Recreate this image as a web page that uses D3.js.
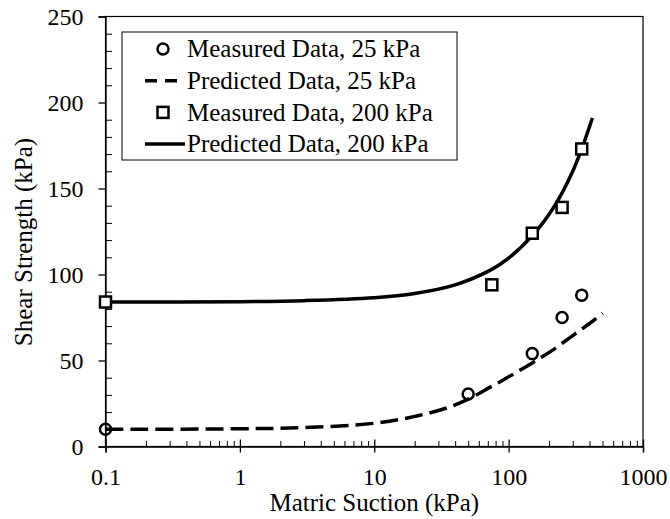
<!DOCTYPE html>
<html>
<head>
<meta charset="utf-8">
<script src="https://cdn.jsdelivr.net/npm/d3@7"></script>
<style>
  body { margin: 0; background: #fff; }
  svg text { font-family: "Liberation Serif", "Times New Roman", Times, serif; font-size: 25px; fill: #000; }
</style>
</head>
<body>
<div id="chart"></div>
<script>
// measured points
const measured25X = [0.1, 50, 150, 250, 350];
const measured25Y = [10, 30.5, 54, 75, 88];
const measured200X = [0.1, 75, 150, 250, 350];
const measured200Y = [84, 94, 124, 139, 173];

// predicted curves
const predicted25X = [0.1, 1, 3, 10, 20, 35, 50, 75, 100, 150, 214, 300, 400, 500];
const predicted25Y = [10, 10.3, 11, 13.5, 17.5, 22.5, 27.5, 35, 40.5, 48.6, 56.2, 64.5, 71.5, 77.5];
const predicted200X = [0.1, 1, 3, 10, 20, 40, 75, 100, 150, 200, 250, 300, 350, 420];
const predicted200Y = [84, 84.2, 84.8, 86.5, 89, 94, 103, 109.5, 122.5, 135, 147.5, 160, 173, 191];

const xTicks = [0.1, 1, 10, 100, 1000];
const xTickLabels = ["0.1", "1", "10", "100", "1000"];
const yTicks = [0, 50, 100, 150, 200, 250];

const legendLabels = ["Measured Data, 25 kPa", "Predicted Data, 25 kPa", "Measured Data, 200 kPa", "Predicted Data, 200 kPa"];

const width = 670, height = 519,
    margin = ({top: 16.5, right: 27, bottom: 72.5, left: 105.5});

const svg = d3.select("#chart").append("svg")
    .attr("width", width).attr("height", height)
    .attr("viewBox", [0, 0, width, height]);

const x = d3.scaleLog()
    .domain([0.1, 1000])
    .range([margin.left, width - margin.right]);

const y = d3.scaleLinear()
    .domain([0, 250])
    .range([height - margin.bottom, margin.top]);

// minor ticks
let xMinor = [];
for (let p = -1; p < 3; p++) for (let k = 2; k <= 9; k++) xMinor.push(k * Math.pow(10, p));
const yMinor = d3.range(0, 251, 10).filter(v => v % 50 !== 0);

svg.append("g")
    .attr("transform", `translate(0,${y(0)})`)
    .call(d3.axisBottom(x).tickValues(xMinor).tickSize(-5.5).tickFormat(""))
    .call(g => g.select(".domain").remove());

svg.append("g")
    .attr("transform", `translate(${x(0.1)},0)`)
    .call(d3.axisLeft(y).tickValues(yMinor).tickSize(-6.5).tickFormat(""))
    .call(g => g.select(".domain").remove());

// frame
svg.append("rect")
    .attr("x", x(0.1)).attr("y", y(250))
    .attr("width", x(1000) - x(0.1)).attr("height", y(0) - y(250))
    .attr("fill", "none").attr("stroke", "#000").attr("stroke-width", 1.2);

// main axes
const xAxis = svg.append("g")
    .attr("transform", `translate(0,${y(0)})`)
    .call(d3.axisBottom(x).tickValues(xTicks).tickSize(6).tickFormat((d, i) => xTickLabels[i]));
xAxis.select(".domain").attr("stroke-width", 1.3);
xAxis.selectAll(".tick line").attr("y1", -7).attr("stroke-width", 1.3);
xAxis.selectAll(".tick text").attr("y", 38).attr("dy", 0).style("font-size", "24px");

const yAxis = svg.append("g")
    .attr("transform", `translate(${x(0.1)},0)`)
    .call(d3.axisLeft(y).tickValues(yTicks).tickSize(7));
yAxis.select(".domain").attr("stroke-width", 1.3);
yAxis.selectAll(".tick line").attr("stroke-width", 1.3);
yAxis.selectAll(".tick text").attr("x", -22).attr("dy", "0.33em").style("font-size", "24px");

// axis titles
svg.append("text")
    .attr("x", (x(0.1) + x(1000)) / 2).attr("y", 511)
    .attr("text-anchor", "middle")
    .text("Matric Suction (kPa)");

svg.append("text")
    .attr("transform", "translate(32,242) rotate(-90)")
    .attr("text-anchor", "middle")
    .text("Shear Strength (kPa)");

// curves
const line = d3.line()
    .x(d => x(d[0]))
    .y(d => y(d[1]))
    .curve(d3.curveCatmullRom.alpha(0.5));

svg.append("path")
    .datum(predicted25X.map((v, i) => [v, predicted25Y[i]]))
    .attr("fill", "none").attr("stroke", "#000")
    .attr("stroke-width", 3.5).attr("stroke-dasharray", "18,7")
    .attr("d", line);

svg.append("path")
    .datum(predicted200X.map((v, i) => [v, predicted200Y[i]]))
    .attr("fill", "none").attr("stroke", "#000")
    .attr("stroke-width", 3.5)
    .attr("d", line);

// markers
svg.append("g").selectAll("circle")
    .data(measured25X.map((v, i) => [v, measured25Y[i]]))
    .join("circle")
    .attr("cx", d => x(d[0])).attr("cy", d => y(d[1]))
    .attr("r", 5.5)
    .attr("fill", "none").attr("stroke", "#000").attr("stroke-width", 2.5);

svg.append("g").selectAll("rect")
    .data(measured200X.map((v, i) => [v, measured200Y[i]]))
    .join("rect")
    .attr("x", d => x(d[0]) - 5.5).attr("y", d => y(d[1]) - 5.5)
    .attr("width", 11).attr("height", 11)
    .attr("fill", "#fff").attr("stroke", "#000").attr("stroke-width", 2.5);

// legend
const legend = svg.append("g");
legend.append("rect")
    .attr("x", 122).attr("y", 32).attr("width", 335).attr("height", 128)
    .attr("fill", "#fff").attr("stroke", "#000").attr("stroke-width", 1);

const rowY = i => 49 + i * 31.7;
legendLabels.forEach((lab, i) => {
    legend.append("text")
        .attr("x", 187).attr("y", rowY(i)).attr("dy", "0.33em")
        .text(lab);
});
legend.append("circle")
    .attr("cx", 163).attr("cy", rowY(0)).attr("r", 5.5)
    .attr("fill", "none").attr("stroke", "#000").attr("stroke-width", 2.5);
legend.append("line")
    .attr("x1", 145).attr("x2", 185).attr("y1", rowY(1)).attr("y2", rowY(1))
    .attr("stroke", "#000").attr("stroke-width", 3.5).attr("stroke-dasharray", "12,8");
legend.append("rect")
    .attr("x", 163 - 5.5).attr("y", rowY(2) - 5.5).attr("width", 11).attr("height", 11)
    .attr("fill", "none").attr("stroke", "#000").attr("stroke-width", 2.5);
legend.append("line")
    .attr("x1", 145).attr("x2", 185).attr("y1", rowY(3)).attr("y2", rowY(3))
    .attr("stroke", "#000").attr("stroke-width", 3.5);
</script>
</body>
</html>
